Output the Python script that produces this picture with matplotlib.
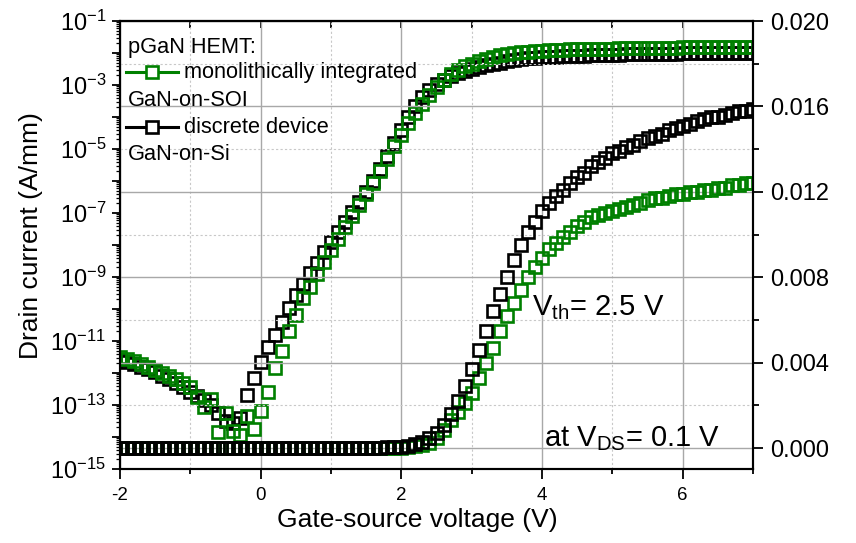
#!/usr/bin/env python3
import matplotlib
matplotlib.use('Agg')
import matplotlib.pyplot as plt
from matplotlib.ticker import FixedLocator, FuncFormatter, MultipleLocator, FormatStrFormatter, LogLocator, NullFormatter
import numpy as np

# Gate sweep, -2 V to 7 V in 0.1 V steps
vgs = np.round(np.arange(-2.0, 7.05, 0.1), 1)

# Transfer curves on the log axis, stored as log10(I_D in A/mm)
black_log_exp = [
    -11.60, -11.65, -11.72, -11.80, -11.88, -11.97, -12.08, -12.18, -12.30, -12.45,
    -12.60, -12.72, -12.85, -13.00, -13.25, -13.50, -13.55, -13.40, -12.70, -12.16,
    -11.65, -11.20, -10.80, -10.40, -9.97, -9.56, -9.22, -8.89, -8.56, -8.23,
    -7.90, -7.59, -7.28, -6.97, -6.66, -6.35, -6.00, -5.62, -5.22, -4.82,
    -4.40, -4.00, -3.65, -3.38, -3.16, -2.98, -2.84, -2.72, -2.63, -2.56,
    -2.50, -2.44, -2.39, -2.34, -2.30, -2.26, -2.23, -2.20, -2.17, -2.15,
    -2.13, -2.12, -2.11, -2.10, -2.09, -2.08, -2.08, -2.07, -2.06, -2.06,
    -2.05, -2.05, -2.04, -2.04, -2.03, -2.03, -2.03, -2.02, -2.02, -2.02,
    -2.01, -2.01, -2.01, -2.01, -2.00, -2.00, -2.00, -2.00, -1.99, -1.99,
    -1.99,
]
green_log_exp = [
    -11.50, -11.56, -11.63, -11.71, -11.80, -11.90, -12.00, -12.10, -12.20, -12.32,
    -12.45, -12.75, -13.06, -12.80, -13.85, -13.26, -13.80, -13.95, -13.35, -13.75,
    -13.20, -12.60, -11.85, -11.30, -10.70, -10.20, -9.66, -9.30, -8.92, -8.54,
    -8.16, -7.80, -7.45, -7.10, -6.75, -6.40, -6.05, -5.68, -5.30, -4.92,
    -4.55, -4.20, -3.88, -3.58, -3.30, -3.05, -2.84, -2.67, -2.53, -2.42,
    -2.33, -2.25, -2.18, -2.12, -2.07, -2.03, -2.00, -1.98, -1.96, -1.94,
    -1.93, -1.92, -1.91, -1.90, -1.89, -1.88, -1.88, -1.87, -1.87, -1.86,
    -1.86, -1.85, -1.85, -1.85, -1.84, -1.84, -1.84, -1.83, -1.83, -1.83,
    -1.82, -1.82, -1.82, -1.82, -1.81, -1.81, -1.81, -1.81, -1.80, -1.80,
    -1.80,
]

# Transfer curves on the linear (right) axis, A/mm
black_lin = [
    0, 0, 0, 0, 0, 0, 0, 0, 0, 0,
    0, 0, 0, 0, 0, 0, 0, 0, 0, 0,
    0, 0, 0, 0, 0, 0, 0, 0, 0, 0,
    0, 0, 0, 0, 0, 0.00001, 0.00001, 0.00002, 0.00003, 0.00004,
    0.00006, 0.0001, 0.00017, 0.00028, 0.00045, 0.0007, 0.0011, 0.0016, 0.0022, 0.0029,
    0.0037, 0.0046, 0.0055, 0.0064, 0.0072, 0.0080, 0.0088, 0.0095, 0.0101, 0.0106,
    0.0111, 0.0115, 0.0118, 0.0121, 0.0124, 0.0127, 0.0129, 0.0132, 0.0134, 0.0136,
    0.0138, 0.0139, 0.0141, 0.0142, 0.0144, 0.0145, 0.0146, 0.0147, 0.0149, 0.0150,
    0.0151, 0.0152, 0.0153, 0.0154, 0.0155, 0.0155, 0.0156, 0.0157, 0.0158, 0.0158,
    0.0159,
]
green_lin = [
    0, 0, 0, 0, 0, 0, 0, 0, 0, 0,
    0, 0, 0, 0, 0, 0, 0, 0, 0, 0,
    0, 0, 0, 0, 0, 0, 0, 0, 0, 0,
    0, 0, 0, 0, 0, 0, 0, 0, 0, 0.00001,
    0.00002, 0.00004, 0.00008, 0.00014, 0.00025, 0.00045, 0.00085, 0.0013, 0.0017, 0.0021,
    0.0026, 0.0033, 0.0040, 0.0047, 0.0055, 0.0062, 0.0068, 0.0074, 0.0080, 0.0085,
    0.0089, 0.0093, 0.0096, 0.0099, 0.0101, 0.0104, 0.0106, 0.0108, 0.0109, 0.0110,
    0.0111, 0.0112, 0.0113, 0.0114, 0.0115, 0.0116, 0.0117, 0.0117, 0.0118, 0.0119,
    0.0119, 0.0120, 0.0120, 0.0121, 0.0121, 0.0122, 0.0122, 0.0123, 0.0123, 0.0124,
    0.0124,
]

x_ticks = [-2, 0, 2, 4, 6]
right_ticks = [0.000, 0.004, 0.008, 0.012, 0.016, 0.020]
left_label_exps = [-1, -3, -5, -7, -9, -11, -13, -15]

GREEN = '#008000'
BLACK = '#000000'


def main():
    plt.rcParams['font.family'] = ['Liberation Sans', 'DejaVu Sans']
    plt.rcParams['mathtext.fontset'] = 'custom'
    plt.rcParams['mathtext.rm'] = 'Liberation Sans'
    plt.rcParams['mathtext.it'] = 'Liberation Sans:italic'
    plt.rcParams['axes.unicode_minus'] = False

    fig = plt.figure(figsize=(8.56, 5.43), dpi=100)
    ax = fig.add_axes([0.1402, 0.1363, 0.7395, 0.8250])
    ax2 = ax.twinx()

    # hollow squares, Origin style
    mk = dict(marker='s', linestyle='none', markersize=8.2, markeredgewidth=1.9,
              markerfacecolor='none')

    # log curves (left axis)
    ax.plot(vgs, 10.0 ** np.array(black_log_exp), markeredgecolor=BLACK, **mk)
    ax.plot(vgs, 10.0 ** np.array(green_log_exp), markeredgecolor=GREEN, **mk)

    # linear curves (right axis)
    ax2.plot(vgs, green_lin, markeredgecolor=GREEN, **mk)
    ax2.plot(vgs, black_lin, markeredgecolor=BLACK, **mk)

    # x axis
    ax.set_xlim(-2, 7)
    ax.xaxis.set_major_locator(FixedLocator(x_ticks))
    ax.xaxis.set_minor_locator(MultipleLocator(1))
    ax.xaxis.set_major_formatter(FuncFormatter(lambda v, p: f"{v:g}"))
    ax.tick_params(axis='x', which='major', direction='out', length=7, width=1.3,
                   labelsize=13.5, pad=6)
    ax.tick_params(axis='x', which='minor', direction='out', length=3.5, width=1.3)

    top = ax.secondary_xaxis('top')
    top.xaxis.set_major_locator(FixedLocator(x_ticks))
    top.xaxis.set_minor_locator(MultipleLocator(1))
    top.tick_params(which='both', direction='in', length=5, width=1.3, labeltop=False)
    top.spines['top'].set_linewidth(1.5)

    # left log axis
    ax.set_yscale('log')
    ax.set_ylim(1e-15, 1e-1)
    ax.yaxis.set_major_locator(LogLocator(base=10, numticks=30))
    ax.yaxis.set_minor_locator(LogLocator(base=10, subs=np.arange(2, 10), numticks=30))
    ax.yaxis.set_minor_formatter(NullFormatter())

    def log_fmt(v, pos):
        e = int(round(np.log10(v)))
        if e in left_label_exps:
            return r'$\mathregular{10^{-%d}}$' % (-e)
        return ''
    ax.yaxis.set_major_formatter(FuncFormatter(log_fmt))
    ax.tick_params(axis='y', which='major', direction='out', length=6, width=1.3,
                   labelsize=17, pad=4)
    ax.tick_params(axis='y', which='minor', direction='out', length=3, width=0.9)

    # right linear axis
    ax2.set_ylim(-0.00098, 0.020)
    ax2.yaxis.set_major_locator(FixedLocator(right_ticks))
    ax2.yaxis.set_minor_locator(FixedLocator([0.002, 0.006, 0.010, 0.014, 0.018]))
    ax2.yaxis.set_major_formatter(FormatStrFormatter('%.3f'))
    ax2.tick_params(axis='y', which='major', direction='out', length=7, width=1.3,
                    labelsize=17, pad=5)
    ax2.tick_params(axis='y', which='minor', direction='out', length=4, width=1.3)

    # grid: vertical from x axis, horizontal from right axis
    ax.grid(True, which='major', axis='x', color='#a8a8a8', linestyle='-', linewidth=1.0)
    ax.grid(True, which='minor', axis='x', color='#c8c8c8', linestyle=(0, (2, 2)), linewidth=0.8)
    ax.grid(False, axis='y', which='both')
    ax2.grid(True, which='major', axis='y', color='#a8a8a8', linestyle='-', linewidth=1.0)
    ax2.grid(True, which='minor', axis='y', color='#c8c8c8', linestyle=(0, (2, 2)), linewidth=0.8)
    ax2.set_axisbelow(True)

    for a in (ax, ax2):
        for s in a.spines.values():
            s.set_linewidth(1.5)

    ax.set_xlabel('Gate-source voltage (V)', fontsize=19)
    ax.xaxis.set_label_coords(0.469, -0.087)
    ax.set_ylabel('Drain current (A/mm)', fontsize=19)
    ax.yaxis.set_label_coords(-0.122, 0.52)

    # legend drawn by hand, Origin style
    t = ax2.transAxes
    ax2.text(0.0126, 0.928, 'pGaN HEMT:', transform=t, fontsize=15.7, va='baseline')
    for y_line, y_txt, y_sub, col, lab, sub in [
            (0.886, 0.872, 0.810, GREEN, 'monolithically integrated', 'GaN-on-SOI'),
            (0.763, 0.749, 0.690, BLACK, 'discrete device', 'GaN-on-Si')]:
        ax2.plot([0.0095, 0.0916], [y_line, y_line], color=col, linewidth=2.2,
                 transform=t, clip_on=False)
        ax2.plot([0.0506], [y_line], marker='s', markersize=8.2, markeredgewidth=1.9,
                 markerfacecolor='white', markeredgecolor=col, transform=t, clip_on=False)
        ax2.text(0.101, y_txt, lab, transform=t, fontsize=15.7, va='baseline')
        ax2.text(0.0126, y_sub, sub, transform=t, fontsize=15.7, va='baseline')

    ax2.text(0.651, 0.328, r'V$_\mathregular{th}$= 2.5 V', transform=t, fontsize=21,
             va='bottom')
    ax2.text(0.670, 0.036, r'at V$_\mathregular{DS}$= 0.1 V', transform=t, fontsize=21,
             va='bottom')

    fig.savefig('out.png', dpi=100)
    plt.close(fig)


if __name__ == "__main__":
    main()
